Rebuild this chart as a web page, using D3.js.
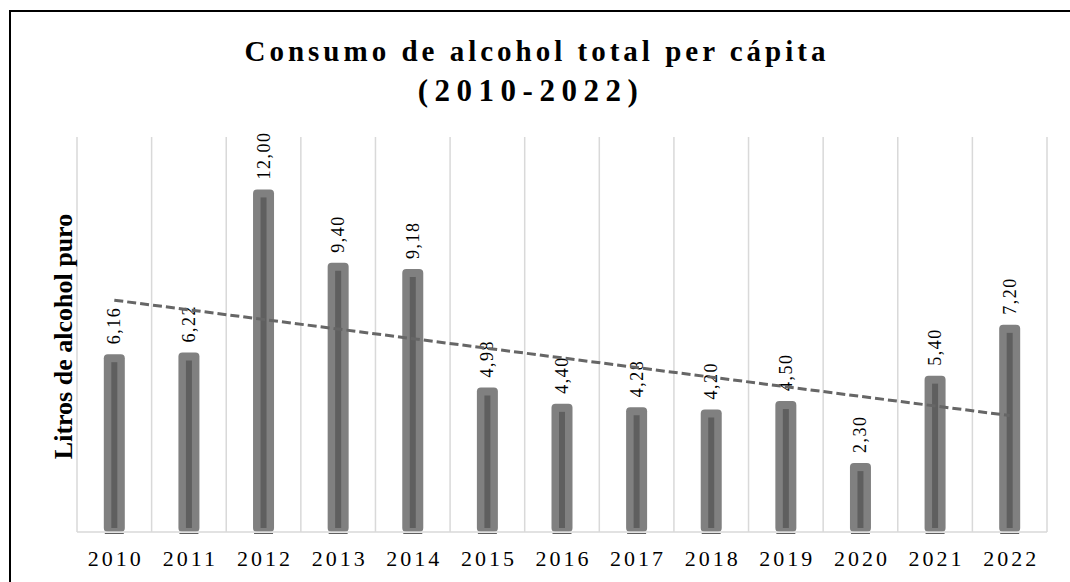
<!DOCTYPE html>
<html>
<head>
<meta charset="utf-8">
<script src="https://cdn.jsdelivr.net/npm/d3@7"></script>
<style>
  html, body { margin: 0; padding: 0; background: #fff; }
  svg { display: block; }
</style>
</head>
<body>
<svg id="chart" width="1070" height="582"></svg>
<script>
// datos
const years = ["2010", "2011", "2012", "2013", "2014", "2015", "2016", "2017", "2018", "2019", "2020", "2021", "2022"];
const litros = [6.16, 6.22, 12.00, 9.40, 9.18, 4.98, 4.40, 4.28, 4.20, 4.50, 2.30, 5.40, 7.20];
const titleLines = ["Consumo de alcohol total per cápita", "(2010-2022)"];
const yLabel = "Litros de alcohol puro";

const svg = d3.select("#chart");
const W = 1070, H = 582;
const plot = { left: 77, right: 1047, top: 137, bottom: 532 };

const x = d3.scaleBand().domain(years).range([plot.left, plot.right]).padding(0);
const y = d3.scaleLinear().domain([0, 14]).range([plot.bottom, plot.top]);
const fmt = v => d3.format(".2f")(v).replace(".", ",");
const serif = "'Liberation Serif', 'Times New Roman', serif";

// marco
svg.append("rect")
  .attr("x", 10).attr("y", 11)
  .attr("width", W + 20).attr("height", H + 20)
  .attr("fill", "none").attr("stroke", "#000").attr("stroke-width", 2);

// titulo
svg.append("text")
  .attr("x", 537).attr("y", 61)
  .attr("text-anchor", "middle")
  .style("font-family", serif)
  .style("font-weight", "bold").style("font-size", "29px")
  .selectAll("tspan").data(titleLines).enter().append("tspan")
  .attr("x", (d, i) => i ? 531 : 537).attr("dy", (d, i) => i ? 40 : 0)
  .style("font-size", (d, i) => i ? "31px" : "29px")
  .style("letter-spacing", (d, i) => i ? "6.5px" : "4px")
  .text(d => d);

// lineas de cuadricula verticales
const bounds = years.map(d => x(d)).concat([plot.right]);
svg.append("g").selectAll("line").data(bounds).enter().append("line")
  .attr("x1", d => d).attr("x2", d => d)
  .attr("y1", plot.top).attr("y2", plot.bottom)
  .attr("stroke", "#d9d9d9").attr("stroke-width", 1.5);

// barras
const bw = x.bandwidth();
const cx = i => x(years[i]) + bw / 2;
const outerW = 21, innerW = 6, pad = 4;
const bars = svg.append("g").selectAll("g").data(litros).enter().append("g");

bars.append("rect")
  .attr("x", (d, i) => cx(i) - outerW / 2)
  .attr("y", d => y(d) - pad)
  .attr("width", outerW)
  .attr("height", d => plot.bottom - y(d) + pad)
  .attr("rx", 4)
  .attr("fill", "#808080");

bars.append("rect")
  .attr("x", (d, i) => cx(i) - innerW / 2)
  .attr("y", d => y(d) + pad)
  .attr("width", innerW)
  .attr("height", d => plot.bottom - y(d) - 2 * pad)
  .attr("fill", "#5f5f5f");

bars.append("line")
  .attr("x1", (d, i) => cx(i) - outerW / 2 + 1)
  .attr("x2", (d, i) => cx(i) + outerW / 2 - 1)
  .attr("y1", plot.bottom + 1.5).attr("y2", plot.bottom + 1.5)
  .attr("stroke", "#606060").attr("stroke-width", 1);

// eje horizontal
svg.append("line")
  .attr("x1", plot.left).attr("x2", plot.right)
  .attr("y1", plot.bottom).attr("y2", plot.bottom)
  .attr("stroke", "#d9d9d9").attr("stroke-width", 1.5);

// linea de tendencia (regresion lineal)
const n = litros.length;
const mx = d3.mean(litros, (d, i) => i);
const my = d3.mean(litros);
const sxy = d3.sum(litros, (d, i) => (i - mx) * (d - my));
const sxx = d3.sum(litros, (d, i) => (i - mx) * (i - mx));
const slope = sxy / sxx, icpt = my - slope * mx;
const trend = [0, n - 1].map(i => [cx(i), y(icpt + slope * i)]);

// etiquetas de datos
bars.append("text")
  .attr("transform", (d, i) => `translate(${cx(i) + 6},${y(d) - 14}) rotate(-90)`)
  .style("font-family", serif)
  .style("font-size", "18px")
  .style("letter-spacing", "1.5px")
  .attr("fill", "#000")
  .text(d => fmt(d));

svg.append("path")
  .attr("d", d3.line()(trend))
  .attr("fill", "none")
  .attr("stroke", "#666")
  .attr("stroke-width", 3)
  .attr("stroke-dasharray", "9,4");

// etiquetas del eje x
svg.append("g").selectAll("text").data(years).enter().append("text")
  .attr("x", (d, i) => cx(i) + 1.5)
  .attr("y", 566)
  .attr("text-anchor", "middle")
  .style("font-family", serif)
  .style("font-size", "22px")
  .style("letter-spacing", "3px")
  .text(d => d);

// titulo del eje y
svg.append("text")
  .attr("transform", `translate(72,${(plot.top + plot.bottom) / 2 + 2}) rotate(-90)`)
  .attr("text-anchor", "middle")
  .style("font-family", serif)
  .style("font-weight", "bold").style("font-size", "26px")
  .text(yLabel);
</script>
</body>
</html>
